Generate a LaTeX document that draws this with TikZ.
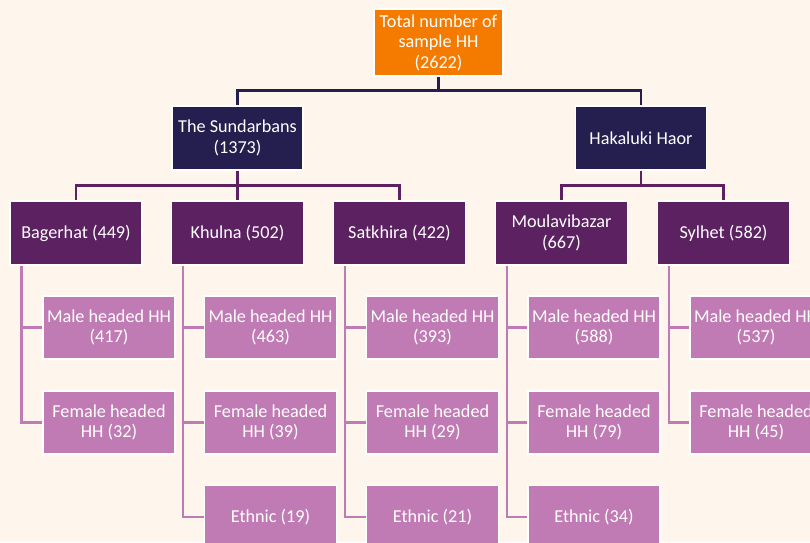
\documentclass[tikz,border=0pt]{standalone}
\usepackage{fontspec}
\setmainfont{Carlito}
\usepackage{tikz}
\definecolor{bgcream}{HTML}{FEF6EC}
\definecolor{topcol}{HTML}{F57A00}
\definecolor{navycol}{HTML}{241F4F}
\definecolor{plumcol}{HTML}{5B2160}
\definecolor{pinkcol}{HTML}{C07BB4}
\begin{document}
\begin{tikzpicture}[
  x=1pt, y=-1pt,
  every node/.style={rectangle, draw=white, line width=1.2pt, text=white, align=center,
    inner sep=0pt, font=\fontsize{18.2}{20.5}\selectfont},
  topbox/.style={fill=topcol, minimum width=129pt, minimum height=67pt},
  sitebox/.style={fill=navycol, minimum width=131pt, minimum height=64pt},
  distbox/.style={fill=plumcol, minimum width=132pt, minimum height=64pt},
  hhbox/.style={fill=pinkcol, minimum width=132pt, minimum height=63pt},
  toplink/.style={draw=navycol, line width=2.6pt},
  sitelink/.style={draw=plumcol, line width=2.6pt},
  hhlink/.style={draw=pinkcol, line width=2.6pt}
]
\fill[bgcream] (0,0) rectangle (810,542);
\clip (0,0) rectangle (810,542);

\node[topbox] (total) at (438.5,42.5) {Total number of\\sample HH\\(2622)};

\node[sitebox] (sund) at (237.5,138) {The Sundarbans\\(1373)};
\node[sitebox] (hak) at (641,138) {Hakaluki Haor};

\node[distbox] (bag) at (76,233) {Bagerhat (449)};
\node[distbox] (khu) at (237.5,233) {Khulna (502)};
\node[distbox] (sat) at (399.5,233) {Satkhira (422)};
\node[distbox] (mou) at (561.5,233) {Moulavibazar\\(667)};
\node[distbox] (syl) at (723.5,233) {Sylhet (582)};

\node[hhbox] (bagm) at (109,327.5) {Male headed HH\\(417)};
\node[hhbox] (bagf) at (109,422.5) {Female headed\\HH (32)};
\node[hhbox] (khum) at (270.5,327.5) {Male headed HH\\(463)};
\node[hhbox] (khuf) at (270.5,422.5) {Female headed\\HH (39)};
\node[hhbox] (khue) at (270.5,517) {Ethnic (19)};
\node[hhbox] (satm) at (432.5,327.5) {Male headed HH\\(393)};
\node[hhbox] (satf) at (432.5,422.5) {Female headed\\HH (29)};
\node[hhbox] (sate) at (432.5,517) {Ethnic (21)};
\node[hhbox] (moum) at (594,327.5) {Male headed HH\\(588)};
\node[hhbox] (mouf) at (594,422.5) {Female headed\\HH (79)};
\node[hhbox] (moue) at (594,517) {Ethnic (34)};
\node[hhbox] (sylm) at (756,327.5) {Male headed HH\\(537)};
\node[hhbox] (sylf) at (756,422.5) {Female headed\\HH (45)};

\draw[toplink] (total.south) -- ++(0,14) -| (sund.north);
\draw[toplink] (total.south) -- ++(0,14) -| (hak.north);

\foreach \d in {bag,khu,sat}
  \draw[sitelink] (sund.south) -- ++(0,15) -| (\d.north);
\foreach \d in {mou,syl}
  \draw[sitelink] (hak.south) -- ++(0,15) -| (\d.north);

\foreach \d/\k in {bag/bagm,bag/bagf,khu/khum,khu/khuf,khu/khue,sat/satm,sat/satf,sat/sate,mou/moum,mou/mouf,mou/moue,syl/sylm,syl/sylf}
  \draw[hhlink] (\d.south west) ++(12,0) |- (\k.west);
\end{tikzpicture}
\end{document}
